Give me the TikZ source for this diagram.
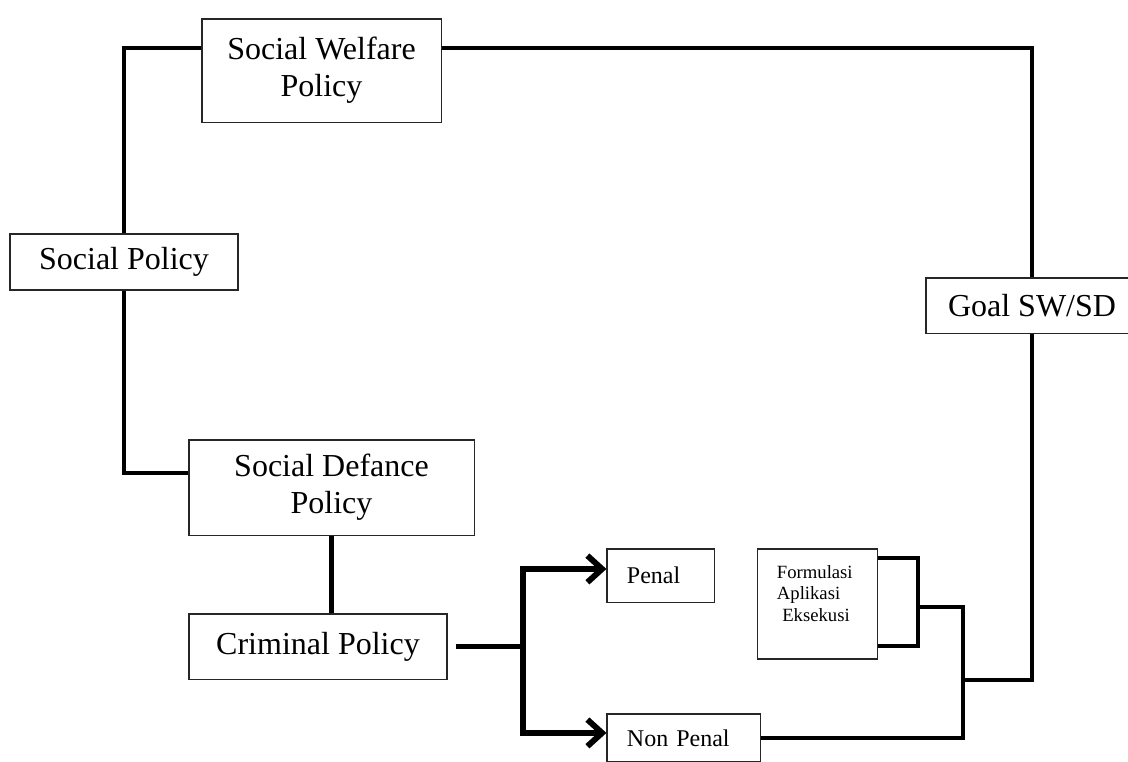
\documentclass[tikz,border=0pt]{standalone}
\usepackage{fontspec}
\setmainfont{Liberation Serif}
\usetikzlibrary{arrows.meta,calc}

\begin{document}
\begin{tikzpicture}[x=0.75pt, y=-0.75pt,
    box/.style={draw=black!85, line width=0.8pt, inner sep=0pt, align=center,
      font=\fontsize{24}{28}\selectfont},
    smallbox/.style={draw=black!85, line width=0.8pt, inner xsep=15pt, inner ysep=0pt,
      align=left, font=\fontsize{18}{21}\selectfont},
    link/.style={line width=3.6pt},
    branch/.style={line width=4.4pt, -{Straight Barb[length=11pt,width=20pt]}}]
  \useasboundingbox (0,0) rectangle (1128,761);
  \clip (0,0) rectangle (1128,761);

  % policy boxes
  \node[box, minimum width=179.3pt, minimum height=77.3pt] (swp) at (321.5,70.5) {Social Welfare\\Policy};
  \node[box, minimum width=171pt, minimum height=42pt] (sp) at (124,262) {Social Policy};
  \node[box, minimum width=213.8pt, minimum height=71.3pt] (sdp) at (331.5,487.5) {Social Defance\\Policy};
  \node[box, minimum width=193.5pt, minimum height=48.8pt] (cp) at (318,646.5) {Criminal Policy};
  \node[box, minimum width=159pt, minimum height=41.3pt] (goal) at (1032,305.5) {Goal SW/SD};

  % penal / non penal
  \node[smallbox, text width=50.3pt, minimum height=39.8pt] (penal) at (660.5,575.5) {Penal};
  \node[smallbox, text width=84.8pt, minimum height=36pt] (nonpenal) at (683.5,738) {Non Penal};
  \node[smallbox, inner xsep=14.3pt, text width=60.8pt, minimum height=82.5pt,
    font=\fontsize{14}{16}\selectfont] (tahap) at (817.5,604) {Formulasi\\Aplikasi\\\hspace*{4pt}Eksekusi\\\mbox{}};

  \coordinate (fork) at (523,646.5);
  \coordinate (brk) at (918,607);
  \coordinate (mrg) at (963,680);

  % connectors
  \draw[link] ([yshift=16.9pt]swp.west) -| (sp.north);
  \draw[link] ([yshift=16.9pt]swp.east) -| (goal.north);
  \draw[link] (sp.south) |- ([yshift=10.9pt]sdp.west);
  \draw[link] (sdp.south) -- (sdp.south |- cp.north);
  \draw[line width=4.4pt] ([xshift=6pt]cp.east) -- (fork);
  \draw[branch] (fork) |- ([yshift=4.9pt]penal.west);
  \draw[branch] (fork) |- ([yshift=3.8pt]nonpenal.west);

  \draw[link] ([yshift=34.5pt]tahap.east) -| (brk) |- ([yshift=-31.5pt]tahap.east);
  \draw[link] (brk) -| (mrg) |- (nonpenal.east);
  \draw[link] (goal.south) |- (mrg);
\end{tikzpicture}
\end{document}
